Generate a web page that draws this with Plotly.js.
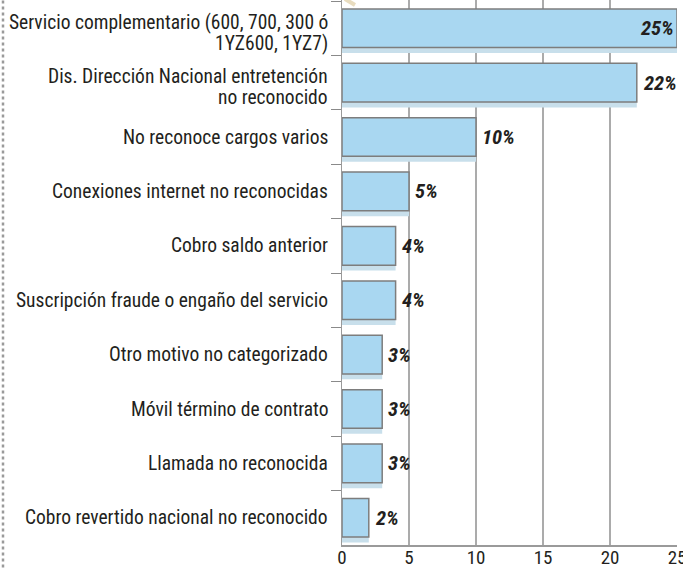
<!DOCTYPE html>
<html>
<head>
<meta charset="utf-8">
<script src="https://cdn.plot.ly/plotly-3.0.1.min.js"></script>
<style>
  html, body { margin: 0; padding: 0; background: #ffffff; }
  #chart { width: 683px; height: 568px; }
</style>
</head>
<body>
<div id="chart"></div>
<script>
// ---- Data ----
const categories = [
  "Servicio complementario (600, 700, 300 ó\n1YZ600, 1YZ7)",
  "Dis. Dirección Nacional entretención\nno reconocido",
  "No reconoce cargos varios",
  "Conexiones internet no reconocidas",
  "Cobro saldo anterior",
  "Suscripción fraude o engaño del servicio",
  "Otro motivo no categorizado",
  "Móvil término de contrato",
  "Llamada no reconocida",
  "Cobro revertido nacional no reconocido"
];
const values = [25, 22, 10, 5, 4, 4, 3, 3, 3, 2];
const xTickValues = [0, 5, 10, 15, 20, 25];
const xTickLabels = ["0", "5", "10", "15", "20", "25"];

// ---- Styles ----
const FONT = "Roboto Condensed, Open Sans, sans-serif";
const TEXT_COLOR = "#231f20";
const BAR_COLOR = "#a9d7f1";
const SHADOW_COLOR = "#c8dfeb";
const BAR_WIDTH = 0.71;
const SHADOW_SHIFT = 0.1;
const X_MAX = 25;

const shadowTrace = {
  type: "bar",
  orientation: "h",
  x: values,
  y: categories,
  width: BAR_WIDTH,
  offset: -BAR_WIDTH / 2 + SHADOW_SHIFT,
  marker: { color: SHADOW_COLOR, line: { width: 0 } },
  hoverinfo: "skip",
  showlegend: false
};

const mainTrace = {
  type: "bar",
  orientation: "h",
  x: values,
  y: categories,
  width: BAR_WIDTH,
  offset: -BAR_WIDTH / 2,
  marker: { color: BAR_COLOR, line: { color: "#7d7d7d", width: 1.5 } },
  hoverinfo: "x+y",
  showlegend: false
};

const valueFont = { family: FONT, size: 20.5, color: TEXT_COLOR, weight: "bold", style: "italic" };
const annotations = [];

// value labels (outside the bar end, inside when the bar fills the axis)
values.forEach(function (v, i) {
  const inside = v >= X_MAX;
  annotations.push({
    xref: "x", yref: "y",
    x: v, y: categories[i],
    xanchor: inside ? "right" : "left", yanchor: "middle",
    xshift: inside ? -1 : 4,
    text: v + "%",
    showarrow: false,
    font: valueFont
  });
});

// category label annotations (one per text line, for tight leading)
const LINE_GAP = 20.5;
categories.forEach(function (cat) {
  const lines = cat.split("\n");
  const n = lines.length;
  lines.forEach(function (ln, j) {
    const down = (j - (n - 1) / 2) * LINE_GAP + (n > 1 ? 4.5 : 0);
    annotations.push({
      xref: "paper", yref: "y",
      x: 0, y: cat,
      xanchor: "right", yanchor: "middle", align: "right",
      xshift: -12, yshift: -down,
      text: ln,
      showarrow: false,
      font: { family: FONT, size: 19.5, color: TEXT_COLOR }
    });
  });
});

const L = 342, W = 335, H = 545;
const layout = {
  width: 683,
  height: 568,
  margin: { l: L, r: 683 - L - W, t: 0, b: 568 - H },
  paper_bgcolor: "#ffffff",
  plot_bgcolor: "#ffffff",
  barmode: "overlay",
  showlegend: false,
  xaxis: {
    range: [0, X_MAX],
    tickvals: xTickValues,
    ticktext: xTickLabels,
    showgrid: true,
    gridcolor: "#ababab",
    gridwidth: 1.5,
    zeroline: false,
    showline: true,
    linecolor: "#9a9a9a",
    linewidth: 2,
    ticks: "",
    ticklabelstandoff: -6,
    ticklabeloverflow: "allow",
    tickfont: { family: FONT, size: 19, color: TEXT_COLOR },
    fixedrange: true
  },
  yaxis: {
    type: "category",
    autorange: "reversed",
    showticklabels: false,
    ticks: "outside",
    tickson: "boundaries",
    ticklen: 10,
    tickcolor: "#8a8a8a",
    tickwidth: 1,
    showgrid: false,
    zeroline: false,
    showline: true,
    linecolor: "#9a9a9a",
    linewidth: 1.5,
    fixedrange: true
  },
  annotations: annotations,
  shapes: [
    {
      type: "line", xref: "paper", yref: "paper",
      x0: (3 - L) / W, x1: (3 - L) / W, y0: 1.01, y1: -0.05,
      line: { color: "#9a9a9a", width: 2.5, dash: "dot" }
    },
    {
      type: "line", xref: "paper", yref: "paper",
      x0: (345 - L) / W, x1: (355 - L) / W, y0: 1 + 1 / H, y1: 1 - 5 / H,
      line: { color: "#e8dcbf", width: 4 }
    }
  ]
};

Plotly.newPlot("chart", [shadowTrace, mainTrace], layout, { displayModeBar: false, staticPlot: true });
</script>
</body>
</html>
